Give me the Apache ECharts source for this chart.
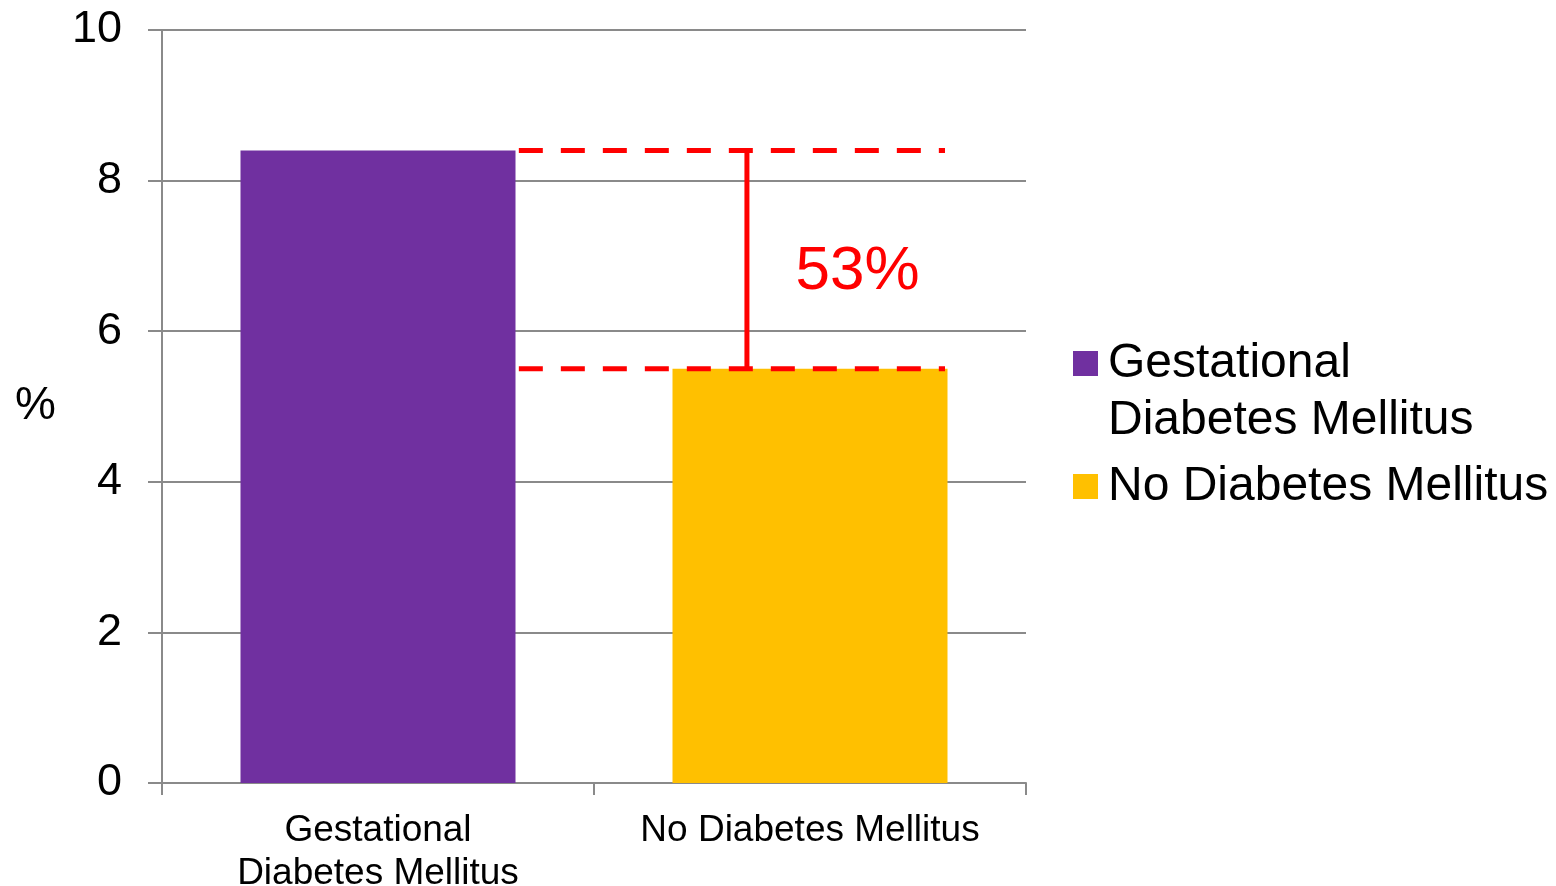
<!DOCTYPE html>
<html>
<head>
<meta charset="utf-8">
<script src="https://cdn.jsdelivr.net/npm/echarts@6/dist/echarts.min.js"></script>
<style>
  html, body { margin: 0; padding: 0; background: #fff; }
  #chart { width: 1556px; height: 886px; }
</style>
</head>
<body>
<div id="chart"></div>
<script>
// ---- data ----
const categories = ['Gestational Diabetes Mellitus', 'No Diabetes Mellitus'];
const seriesNames = ['Gestational Diabetes Mellitus', 'No Diabetes Mellitus'];
const gdmValues = [8.4, null];
const noDmValues = [null, 5.5];
const yTicks = [0, 2, 4, 6, 8, 10];
const differenceLabel = '53%';
// annotation extents on a hidden 0..2 value axis spanning the category axis
const bracketSpan = [0.826, 1.8125];
const bracketX = 1.354;
const labelPoint = [1.61, 6.79];

const FONT = 'Liberation Sans, Arial, sans-serif';
const GRAY = '#8a8a8a';
const RED = '#ff0000';

const bracketTop = gdmValues[0];
const bracketBottom = noDmValues[1];

const chart = echarts.init(document.getElementById('chart'));
chart.setOption({
  animation: false,
  backgroundColor: '#ffffff',
  textStyle: { fontFamily: FONT },
  grid: { left: 162, right: 530, top: 30, bottom: 103, containLabel: false, outerBoundsMode: 'none' },
  legend: {
    orient: 'vertical',
    left: 1073,
    top: 278,
    padding: 0,
    itemGap: 9,
    itemWidth: 25,
    itemHeight: 25,
    icon: 'rect',
    data: seriesNames,
    formatter: function (name) {
      return name === seriesNames[0] ? '\nGestational\nDiabetes Mellitus' : name;
    },
    textStyle: { fontFamily: FONT, fontSize: 48, lineHeight: 57, color: '#000', padding: [0, 0, 0, 5] }
  },
  xAxis: [
    {
      type: 'category',
      data: categories,
      axisLine: { lineStyle: { color: GRAY, width: 2 } },
      axisTick: { show: true, length: 12, lineStyle: { color: GRAY, width: 2 } },
      axisLabel: {
        color: '#000',
        fontFamily: FONT,
        fontSize: 37,
        lineHeight: 43,
        margin: 26,
        interval: 0,
        formatter: function (v) {
          return v === categories[0] ? 'Gestational\nDiabetes Mellitus' : v;
        }
      },
      splitLine: { show: false }
    },
    { type: 'value', min: 0, max: 2, show: false }
  ],
  yAxis: {
    type: 'value',
    min: yTicks[0],
    max: yTicks[yTicks.length - 1],
    interval: 2,
    name: '%',
    nameLocation: 'middle',
    nameRotate: 0,
    nameGap: 106,
    nameTextStyle: { color: '#000', fontFamily: FONT, fontSize: 46 },
    axisLine: { show: true, lineStyle: { color: GRAY, width: 2 } },
    axisTick: { show: true, length: 14, lineStyle: { color: GRAY, width: 2 } },
    axisLabel: { color: '#000', fontFamily: FONT, fontSize: 45, margin: 40 },
    splitLine: { show: true, lineStyle: { color: GRAY, width: 2 } }
  },
  series: [
    {
      name: seriesNames[0],
      type: 'bar',
      data: gdmValues,
      barWidth: 275,
      barGap: '-100%',
      itemStyle: { color: '#7030a0' }
    },
    {
      name: seriesNames[1],
      type: 'bar',
      data: noDmValues,
      barWidth: 275,
      barGap: '-100%',
      itemStyle: { color: '#ffc000' }
    },
    {
      type: 'line',
      xAxisIndex: 1,
      data: [[bracketSpan[0], bracketTop], [bracketSpan[1], bracketTop]],
      symbol: 'none',
      silent: true,
      lineStyle: { color: RED, width: 5, type: [24, 18], cap: 'butt' },
      z: 5
    },
    {
      type: 'line',
      xAxisIndex: 1,
      data: [[bracketSpan[0], bracketBottom], [bracketSpan[1], bracketBottom]],
      symbol: 'none',
      silent: true,
      lineStyle: { color: RED, width: 5, type: [24, 18], cap: 'butt' },
      z: 5
    },
    {
      type: 'line',
      xAxisIndex: 1,
      data: [[bracketX, bracketTop], [bracketX, bracketBottom]],
      symbol: 'none',
      silent: true,
      lineStyle: { color: RED, width: 5, type: 'solid' },
      z: 5
    },
    {
      type: 'scatter',
      xAxisIndex: 1,
      data: [labelPoint],
      symbolSize: 0,
      silent: true,
      itemStyle: { opacity: 1, color: RED },
      label: {
        show: true,
        position: 'inside',
        formatter: differenceLabel,
        color: RED,
        opacity: 1,
        fontFamily: FONT,
        fontSize: 62
      },
      z: 6
    }
  ]
});
</script>
</body>
</html>
